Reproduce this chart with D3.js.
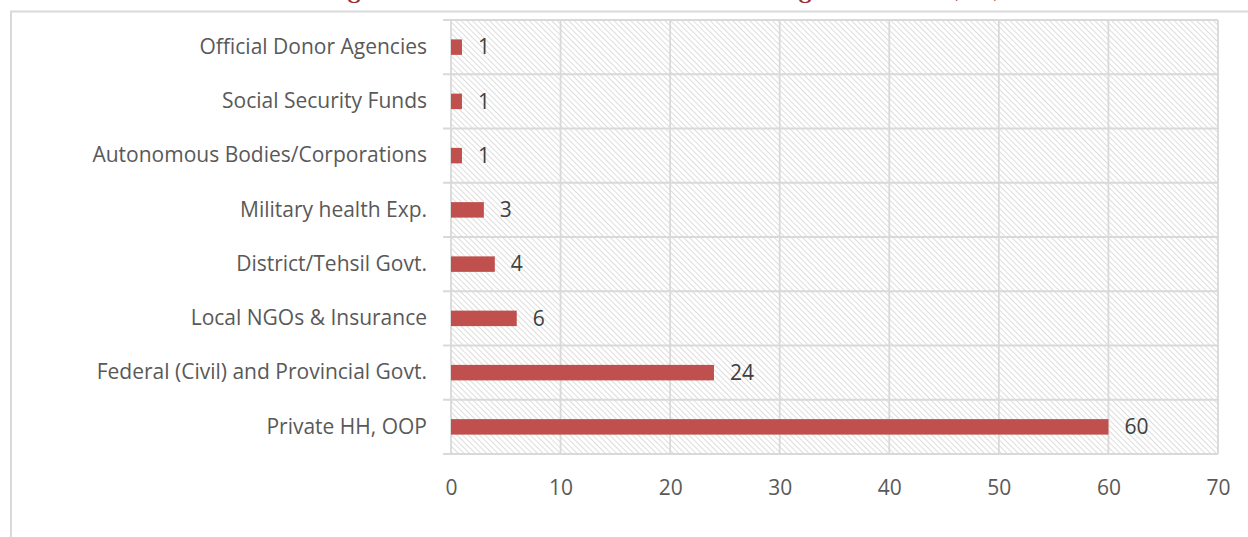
<!DOCTYPE html>
<html><head><meta charset="utf-8">
<script src="https://cdn.jsdelivr.net/npm/d3@7"></script>
<style>body{margin:0;background:#fff;}svg{display:block;}</style>
</head><body><svg id="c" width="1248" height="537"></svg>
<script>
const categories = ["Official Donor Agencies","Social Security Funds","Autonomous Bodies/Corporations","Military health Exp.","District/Tehsil Govt.","Local NGOs & Insurance","Federal (Civil) and Provincial Govt.","Private HH, OOP"];
const values = [1,1,1,3,4,6,24,60];
const xTicks = [0,10,20,30,40,50,60,70];
const titleText = "Figure 6: THE Share of Financing Sources (%)";

const svg = d3.select("#c");
const font = "'Open Sans', sans-serif";
const fs = 21;
const m = {left:451, right:1218, top:20, bottom:454};

const defs = svg.append("defs");
const pat = defs.append("pattern").attr("id","hatch").attr("patternUnits","userSpaceOnUse")
  .attr("width",4).attr("height",4).attr("patternTransform","rotate(45)");
pat.append("rect").attr("width",4).attr("height",4).attr("fill","#fff");
pat.append("line").attr("x1",0).attr("y1",0).attr("x2",4).attr("y2",0)
  .attr("stroke","#d2d2d2").attr("stroke-width",1.5);

// title (cut off at top edge, as in the reference)
svg.append("text").attr("x",318).attr("y",-3.5).attr("text-anchor","start")
  .attr("font-family","Cambria, 'DejaVu Serif', serif").attr("font-size",28)
  .attr("letter-spacing",3.8)
  .attr("fill","#9b2d30").text(titleText);

// outer chart border
svg.append("rect").attr("x",11).attr("y",11.5).attr("width",1400).attr("height",800)
  .attr("fill","none").attr("stroke","#d9d9d9").attr("stroke-width",2);

const x = d3.scaleLinear().domain([0,70]).range([m.left,m.right]);
const y = d3.scaleBand().domain(categories).range([m.top,m.bottom]);

svg.append("rect").attr("x",m.left).attr("y",m.top).attr("width",m.right-m.left).attr("height",m.bottom-m.top)
  .attr("fill","url(#hatch)");

// vertical gridlines
svg.append("g").selectAll("line").data(xTicks).join("line")
  .attr("x1",d=>x(d)).attr("x2",d=>x(d)).attr("y1",m.top).attr("y2",m.bottom)
  .attr("stroke","#d9d9d9").attr("stroke-width",1.8);
// horizontal lines at band boundaries with ticks
const bounds = categories.map(c=>y(c)).concat([m.bottom]);
svg.append("g").selectAll("line").data(bounds).join("line")
  .attr("x1",m.left-8).attr("x2",m.right).attr("y1",d=>d).attr("y2",d=>d)
  .attr("stroke","#d9d9d9").attr("stroke-width",1.8);

// x axis labels
const xa = svg.append("g").attr("transform",`translate(0,${m.bottom})`)
  .call(d3.axisBottom(x).tickValues(xTicks).tickSize(0));
xa.select(".domain").remove();
xa.selectAll("text").attr("y",34).attr("dy","0.35em")
  .attr("font-family",font).attr("font-size",fs).attr("fill","#595959");

// y axis labels
const ya = svg.append("g").attr("transform",`translate(${m.left},0)`)
  .call(d3.axisLeft(y).tickSize(0).tickPadding(24));
ya.select(".domain").remove();
ya.selectAll("text").attr("font-family",font).attr("font-size",fs).attr("fill","#595959");

// bars
const bh = 15.5;
svg.append("g").selectAll("rect").data(values).join("rect")
  .attr("x",x(0)).attr("y",(d,i)=>y(categories[i])+y.bandwidth()/2-bh/2)
  .attr("width",d=>x(d)-x(0)).attr("height",bh).attr("fill","#c0504d");

svg.append("g").selectAll("text").data(values).join("text")
  .attr("x",d=>x(d)+16).attr("y",(d,i)=>y(categories[i])+y.bandwidth()/2)
  .attr("dy","0.35em").attr("font-family",font).attr("font-size",fs).attr("fill","#404040")
  .text(d=>d);
</script></body></html>
